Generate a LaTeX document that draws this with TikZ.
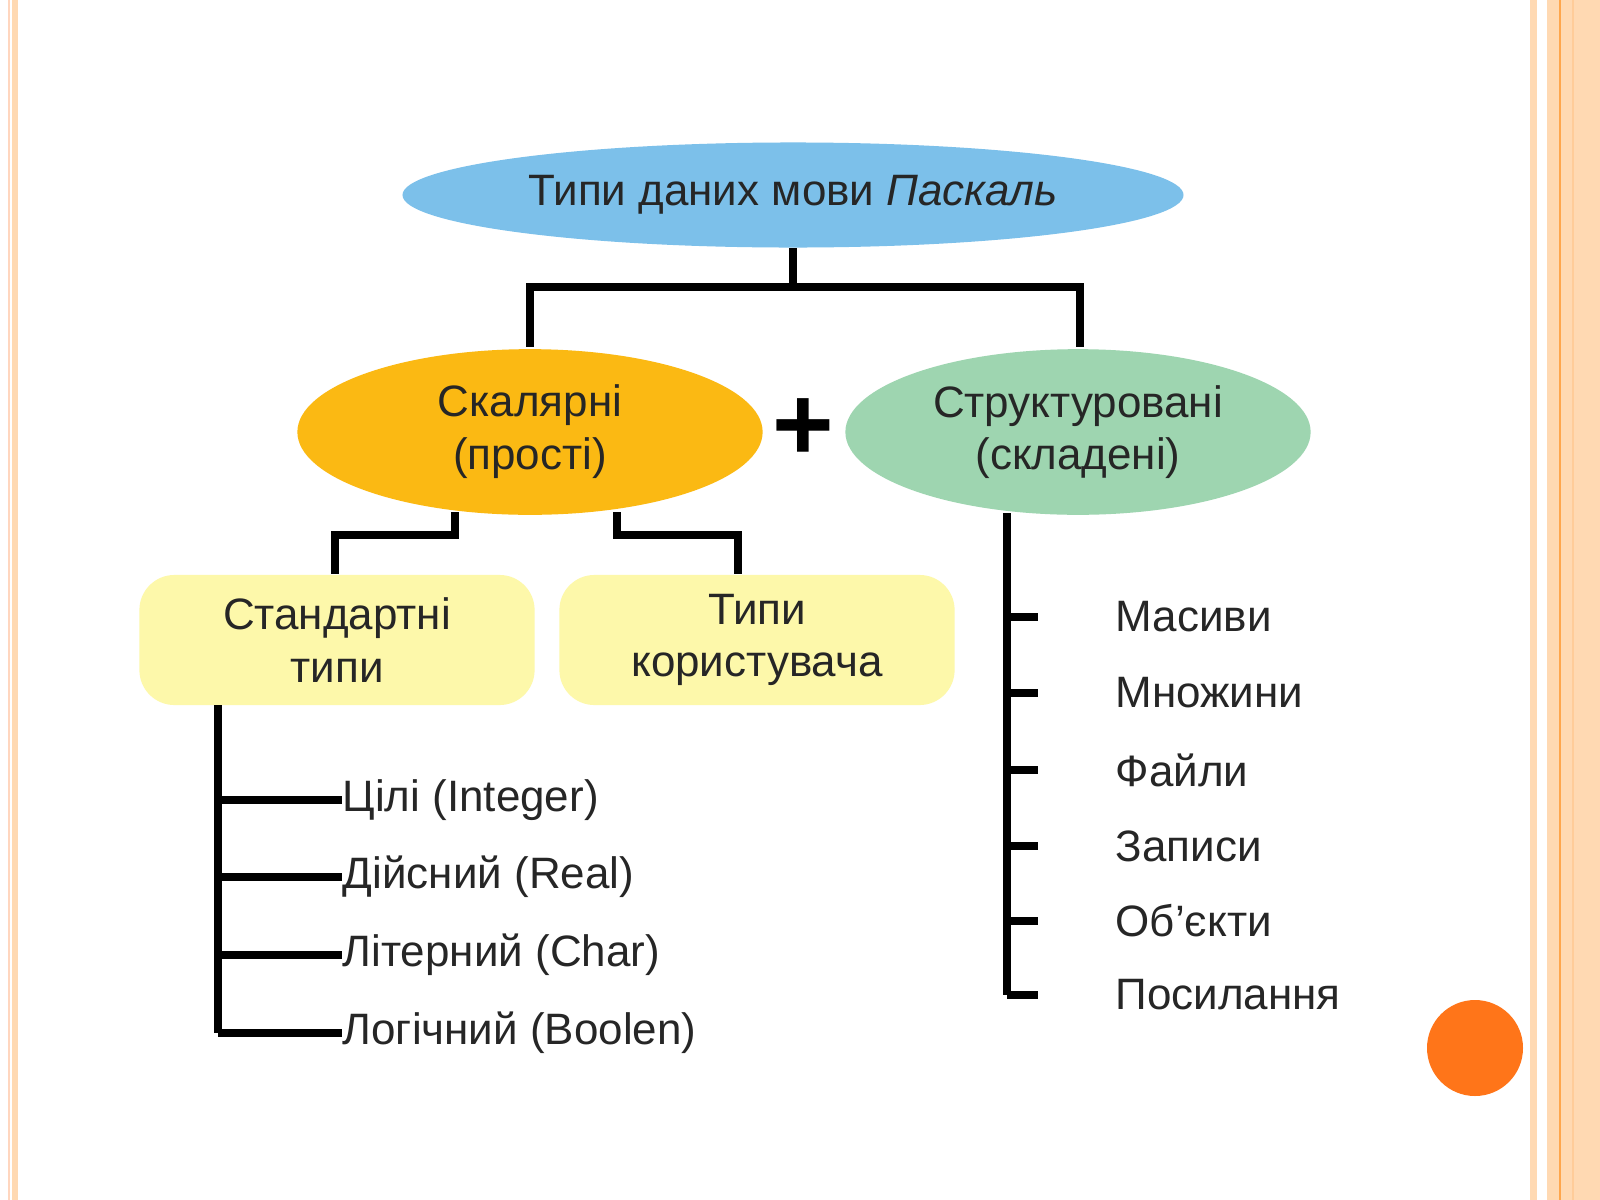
\documentclass[tikz,border=0pt]{standalone}
\usepackage{fontspec}
\setmainfont{Liberation Sans}
\begin{document}
\begin{tikzpicture}[x=0.01cm,y=-0.01cm,
  ln/.style={line width=2.2pt},
  lbl/.style={anchor=west,font=\fontsize{12.5}{15}\selectfont,text=black!85,inner sep=0},
  ell/.style={ellipse,minimum width=#1,align=center,font=\fontsize{12.5}{15}\selectfont,text=black!85}]
\useasboundingbox (0,0) rectangle (1600,1200);
\fill[white] (0,0) rectangle (1600,1200);
% borders
\fill[red!30!orange!25] (8,0) rectangle (10,1200);
\fill[orange!30] (12,0) rectangle (18,1200);
\fill[orange!30] (1530,0) rectangle (1537,1200);
\fill[orange!30] (1547,0) rectangle (1600,1200);
\fill[orange!70] (1559,0) rectangle (1561,1200);
\fill[orange!40] (1572,0) rectangle (1574,1200);
\fill[orange!80!red!90] (1475,1048) circle (48);
\usetikzlibrary{shapes.geometric}
% nodes
\node[ellipse,fill={rgb,255:red,124;green,192;blue,234},minimum width=7.6cm,minimum height=1.05cm,font=\fontsize{12.5}{15}\selectfont,text=black!85] (top) at (793,195) {Типи даних мови \textit{Паскаль}};
\node[ellipse,fill={rgb,255:red,251;green,185;blue,19},minimum width=4.65cm,minimum height=1.65cm,align=center,font=\fontsize{12.5}{15}\selectfont,text=black!85] (sc) at (530,432) {Скалярні\\(прості)};
\node[ellipse,fill={rgb,255:red,158;green,213;blue,176},minimum width=4.65cm,minimum height=1.65cm,align=center,font=\fontsize{12.5}{15}\selectfont,text=black!85] (st) at (1078,432) {Структуровані\\(складені)};
\node[font=\fontsize{30}{30}\selectfont\bfseries] (plus) at (803,430) {+};
\node[fill={rgb,255:red,253;green,248;blue,170},rounded corners=0.35cm,minimum width=3.95cm,minimum height=1.3cm,align=center,font=\fontsize{12.5}{15}\selectfont,text=black!85] (std) at (337,640) {Стандартні\\типи};
\node[fill={rgb,255:red,253;green,248;blue,170},rounded corners=0.35cm,minimum width=3.95cm,minimum height=1.3cm,align=center,font=\fontsize{12.5}{15}\selectfont,text=black!85] (usr) at (757,640) {Типи\\користувача};
% top connectors
\coordinate (j1) at (793,287);
\draw[ln] (top.south) -- (j1) -- (530,287) -- (530,347);
\draw[ln] (j1) -- (1080,287) -- (1080,347);
\draw[ln] (455,512) -- (455,535) -- (335,535) -- (std.north -| 335,0);
\draw[ln] (617,512) -- (617,535) -- (738,535) -- (usr.north -| 738,0);
% left list
\draw[ln] (218,705) -- (218,1033);
\foreach \y/\t/\n in {800/Цілі (Integer)/a,877/Дійсний (Real)/b,955/Літерний (Char)/c,1033/Логічний (Boolen)/d}{
  \node[lbl] (l\n) at (342,\y) {\t};
  \draw[ln] (218,\y) -- (l\n.west) ++(-20,0);
}
% right list
\draw[ln] (1007,513) -- (1007,995);
\foreach \y/\t/\n in {617/Масиви/a,693/Множини/b,770/Файли/c,846/Записи/d,921/Об’єкти/e,995/Посилання/f}{
  \node[lbl] (r\n) at (1115,\y) {\t};
  \draw[ln] (1007,\y) -- ([xshift=-22]r\n.west);
}
\end{tikzpicture}
\end{document}
